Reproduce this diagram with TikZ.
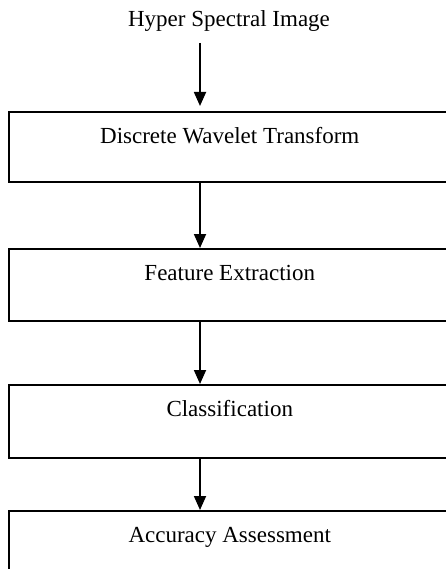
\documentclass[tikz,border=0pt]{standalone}
\usepackage{fontspec}
\setmainfont{Liberation Serif}
\usetikzlibrary{arrows.meta}
\begin{document}
\begin{tikzpicture}[x=1pt,y=-1pt,
  every node/.style={font=\fontsize{23}{27}\selectfont},
  stage/.style={draw, rectangle, line width=1.8pt, minimum width=441pt,
    inner xsep=0pt, inner ysep=0pt, text height=32pt, anchor=north},
  flow/.style={line width=1.8pt, -{Triangle[length=14pt,width=12pt]}}]
\useasboundingbox (0,0) rectangle (446,569);
\clip (0,0) rectangle (446,569);

% input and processing stages
\node[anchor=base] (hsi) at (229,27) {Hyper Spectral Image};
\node[stage, text depth=38pt] (dwt) at (229.75,111) {Discrete Wavelet Transform};
\node[stage, text depth=40pt] (fe)  at (229.75,248) {Feature Extraction};
\node[stage, text depth=41pt] (cls) at (229.75,384) {Classification};
\node[stage, text depth=70pt] (acc) at (229.75,510) {Accuracy Assessment};

% flow arrows along a common vertical
\coordinate (a0) at (200,43);
\draw[flow, shorten >=5pt] (a0) -- (a0 |- dwt.north);
\draw[flow] (dwt.south -| a0) -- (fe.north -| a0);
\draw[flow] (fe.south -| a0) -- (cls.north -| a0);
\draw[flow] (cls.south -| a0) -- (acc.north -| a0);
\end{tikzpicture}
\end{document}
